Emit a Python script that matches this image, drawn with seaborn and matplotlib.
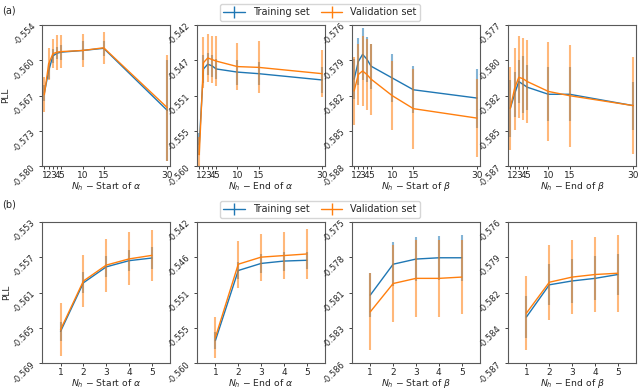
import numpy as np
import matplotlib
matplotlib.use("Agg")
import matplotlib.pyplot as plt
from matplotlib.lines import Line2D
import seaborn as sns

# ---- data ----
NH_TOP = [1, 2, 3, 4, 5, 10, 15, 30]
NH_BOT = [1, 2, 3, 4, 5]

XLABELS = [r"$N_h$ $-$ Start of $\alpha$", r"$N_h$ $-$ End of $\alpha$",
           r"$N_h$ $-$ Start of $\beta$", r"$N_h$ $-$ End of $\beta$"]

# (a) top row
a_ylims = [(-0.580, -0.554), (-0.560, -0.542), (-0.588, -0.576), (-0.587, -0.577)]
a_yticklabels = [["-0.580", "-0.573", "-0.567", "-0.560", "-0.554"],
                 ["-0.560", "-0.555", "-0.551", "-0.547", "-0.542"],
                 ["-0.588", "-0.585", "-0.582", "-0.579", "-0.576"],
                 ["-0.587", "-0.585", "-0.582", "-0.580", "-0.577"]]

a_train = [[-0.5665, -0.5625, -0.5597, -0.5592, -0.5590, -0.5587, -0.5583, -0.5697],
           [-0.5572, -0.5476, -0.5470, -0.5472, -0.5476, -0.5480, -0.5482, -0.5490],
           [-0.5806, -0.5791, -0.5785, -0.5789, -0.5795, -0.5805, -0.5815, -0.5822],
           [-0.5829, -0.5819, -0.5810, -0.5812, -0.5814, -0.5819, -0.5819, -0.5827]]
a_train_err = [[0.0015, 0.0015, 0.0013, 0.0011, 0.0014, 0.0017, 0.0014, 0.0093],
               [0.0014, 0.0018, 0.0014, 0.0014, 0.0013, 0.0016, 0.0015, 0.0016],
               [0.0017, 0.0020, 0.0022, 0.0019, 0.0019, 0.0020, 0.0020, 0.0025],
               [0.0020, 0.0016, 0.0015, 0.0020, 0.0016, 0.0019, 0.0019, 0.0017]]
a_val = [[-0.5668, -0.5612, -0.5593, -0.5590, -0.5589, -0.5587, -0.5582, -0.5692],
         [-0.5585, -0.5468, -0.5462, -0.5464, -0.5466, -0.5473, -0.5474, -0.5482],
         [-0.5816, -0.5802, -0.5799, -0.5802, -0.5806, -0.5820, -0.5831, -0.5839],
         [-0.5829, -0.5815, -0.5807, -0.5808, -0.5810, -0.5817, -0.5820, -0.5827]]
a_val_err = [[0.0032, 0.0030, 0.0027, 0.0032, 0.0030, 0.0030, 0.0029, 0.0097],
             [0.0022, 0.0032, 0.0031, 0.0030, 0.0032, 0.0030, 0.0033, 0.0030],
             [0.0029, 0.0026, 0.0030, 0.0030, 0.0030, 0.0029, 0.0034, 0.0033],
             [0.0029, 0.0029, 0.0029, 0.0029, 0.0029, 0.0035, 0.0036, 0.0034]]

# (b) bottom row
b_ylims = [(-0.569, -0.553), (-0.560, -0.542), (-0.586, -0.575), (-0.587, -0.576)]
b_yticklabels = [["-0.569", "-0.565", "-0.561", "-0.557", "-0.553"],
                 ["-0.560", "-0.555", "-0.551", "-0.546", "-0.542"],
                 ["-0.586", "-0.583", "-0.581", "-0.578", "-0.575"],
                 ["-0.587", "-0.584", "-0.582", "-0.579", "-0.576"]]

b_train = [[-0.5654, -0.5599, -0.5581, -0.5574, -0.5571],
           [-0.5571, -0.5482, -0.5473, -0.5470, -0.5469],
           [-0.5807, -0.5783, -0.5779, -0.5778, -0.5778],
           [-0.5834, -0.5809, -0.5806, -0.5804, -0.5801]]
b_train_err = [[0.0011, 0.0012, 0.0012, 0.0012, 0.0012],
               [0.0011, 0.0011, 0.0012, 0.0012, 0.0011],
               [0.0017, 0.0017, 0.0017, 0.0017, 0.0018],
               [0.0016, 0.0016, 0.0017, 0.0017, 0.0016]]
b_val = [[-0.5652, -0.5597, -0.5579, -0.5572, -0.5568],
         [-0.5567, -0.5474, -0.5465, -0.5463, -0.5461],
         [-0.5820, -0.5798, -0.5794, -0.5794, -0.5793],
         [-0.5831, -0.5807, -0.5803, -0.5801, -0.5800]]
b_val_err = [[0.0030, 0.0029, 0.0030, 0.0030, 0.0029],
             [0.0026, 0.0030, 0.0030, 0.0030, 0.0032],
             [0.0030, 0.0030, 0.0030, 0.0030, 0.0029],
             [0.0029, 0.0029, 0.0029, 0.0029, 0.0030]]

BLUE = "#1f77b4"
ORANGE = "#ff7f0e"

sns.set_style("ticks")
plt.rcParams["font.family"] = ["DejaVu Sans"]
plt.rcParams["font.size"] = 6.5

fig = plt.figure(figsize=(6.4, 3.89), dpi=100)

lefts = [0.066, 0.308, 0.550, 0.794]
width = 0.200
rows = [
    dict(bottom=0.572, height=0.364, x=NH_TOP, xlim=(0.5, 30.7), ylims=a_ylims,
         yl=a_yticklabels, tr=a_train, tre=a_train_err, va=a_val, vae=a_val_err),
    dict(bottom=0.066, height=0.364, x=NH_BOT, xlim=(0.2, 5.8), ylims=b_ylims,
         yl=b_yticklabels, tr=b_train, tre=b_train_err, va=b_val, vae=b_val_err),
]

for r, row in enumerate(rows):
    for i in range(4):
        ax = fig.add_axes([lefts[i], row["bottom"], width, row["height"]])
        x = row["x"]
        for ys, es, c in [(row["tr"][i], row["tre"][i], BLUE), (row["va"][i], row["vae"][i], ORANGE)]:
            ax.errorbar(x, ys, yerr=es, fmt="none", ecolor=c, elinewidth=1.5, alpha=0.55)
            sns.lineplot(x=x, y=ys, ax=ax, color=c, linewidth=1.0, legend=False)
        lo, hi = row["ylims"][i]
        ax.set_ylim(lo, hi)
        ax.set_yticks(np.linspace(lo, hi, 5))
        ax.set_yticklabels(row["yl"][i], rotation=45, fontsize=6)
        ax.set_xlim(*row["xlim"])
        ax.set_xticks(x)
        ax.set_xticklabels([str(v) for v in x], fontsize=6.5)
        ax.set_xlabel(XLABELS[i], fontsize=6.7, labelpad=0)
        ax.set_ylabel("PLL" if i == 0 else "", fontsize=6.5, labelpad=1)
        for s in ax.spines.values():
            s.set_color("0.35")
            s.set_linewidth(0.8)
        ax.tick_params(length=2.5, width=0.6, pad=1, colors="0.15")

handles = [Line2D([0], [0], color=BLUE, lw=1, marker="|", markersize=9, markeredgewidth=1),
           Line2D([0], [0], color=ORANGE, lw=1, marker="|", markersize=9, markeredgewidth=1)]
for ytop in [0.968, 0.462]:
    fig.legend(handles, ["Training set", "Validation set"], loc="center",
               bbox_to_anchor=(0.5, ytop), ncol=2, fontsize=7, frameon=True,
               handlelength=2.2, columnspacing=1.2, borderpad=0.35)

fig.text(0.004, 0.985, "(a)", fontsize=7, va="top")
fig.text(0.004, 0.488, "(b)", fontsize=7, va="top")

fig.savefig("out.png", dpi=100)
